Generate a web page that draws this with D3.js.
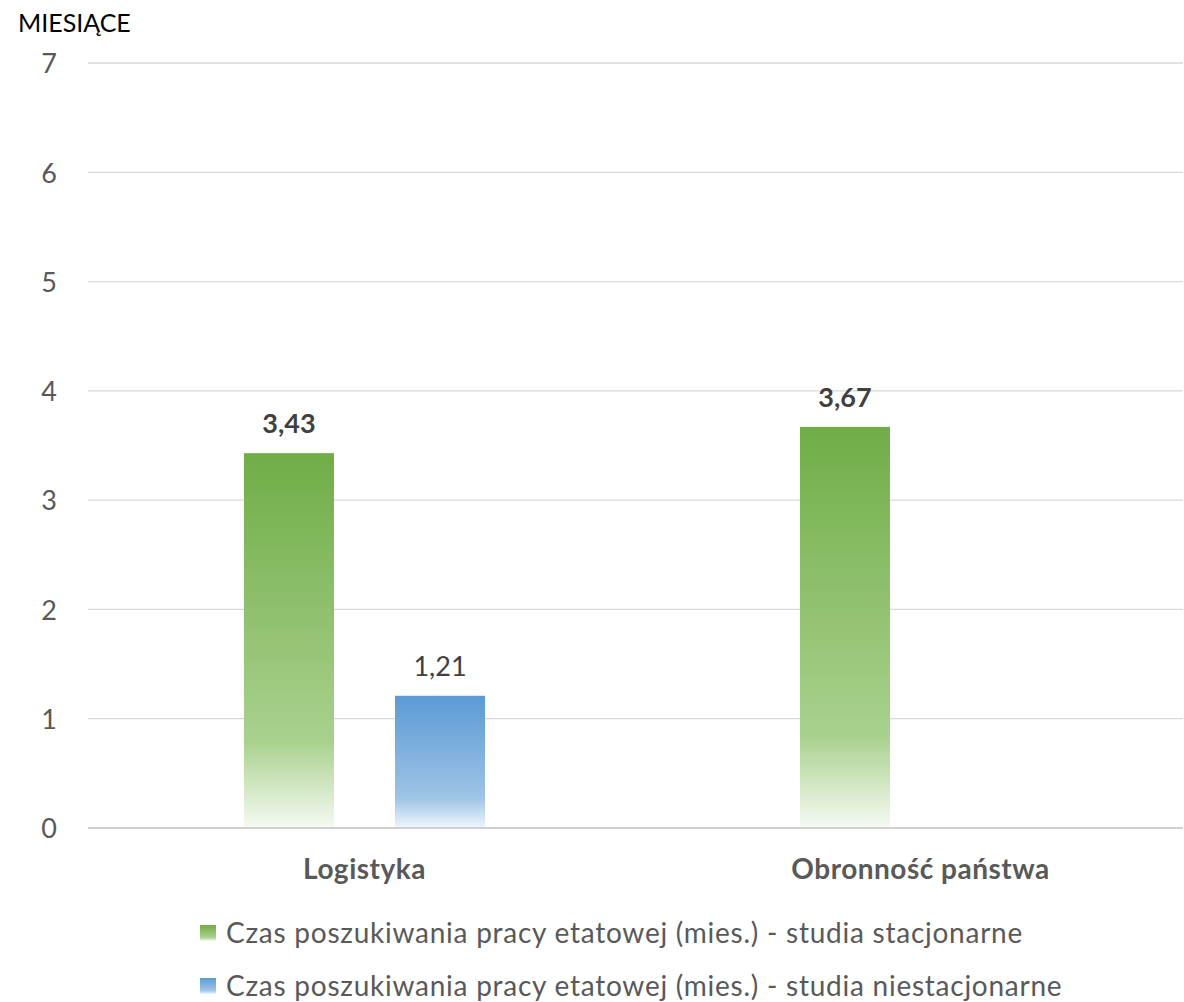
<!DOCTYPE html>
<html><head><meta charset="utf-8">
<script src="https://cdn.jsdelivr.net/npm/d3@7"></script>
<style>body{margin:0;background:#fff}svg{display:block}text{font-family:Lato,"Open Sans",sans-serif}</style>
</head><body>
<svg id="c" width="1184" height="1002"></svg>
<script>
const categories = ["Logistyka", "Obronność państwa"];
const seriesNames = ["Czas poszukiwania pracy etatowej (mies.) - studia stacjonarne",
                     "Czas poszukiwania pracy etatowej (mies.) - studia niestacjonarne"];
const stacjonarne = [3.43, 3.67];
const niestacjonarne = [1.21, null];
const yTicks = [0, 1, 2, 3, 4, 5, 6, 7];
const yTitle = "MIESIĄCE";

const svg = d3.select("#c");
const plotLeft = 88, plotRight = 1183;
const y = d3.scaleLinear().domain([0, 7]).range([828, 63]);
const x0 = d3.scaleBand().domain(categories).range([86.5, 1198.5]);
const half = x0.bandwidth() / 2;
const x1 = d3.scaleBand().domain([0, 1]).range([half - 120.5, half + 120.5]).paddingInner(0.404);

const defs = svg.append("defs");
const grads = [
  {id: "g0", stops: [["0", "#70AD47"], ["0.77", "#A9D18E"], ["1", "#F6FAF3"]]},
  {id: "g1", stops: [["0", "#5B9BD5"], ["0.77", "#9DC3E6"], ["1", "#F0F6FC"]]}
];
grads.forEach(g => {
  const lg = defs.append("linearGradient").attr("id", g.id).attr("x1", 0).attr("y1", 0).attr("x2", 0).attr("y2", 1);
  g.stops.forEach(s => lg.append("stop").attr("offset", s[0]).attr("stop-color", s[1]));
});

// gridlines
svg.append("g").selectAll("line").data(yTicks.filter(d => d > 0)).join("line")
  .attr("x1", plotLeft).attr("x2", plotRight)
  .attr("y1", d => y(d)).attr("y2", d => y(d))
  .attr("stroke", "#d9d9d9").attr("stroke-width", 1.3);

// y axis labels
const yAxis = d3.axisLeft(y).tickValues(yTicks).tickFormat(d3.format("d")).tickSize(0).tickPadding(0);
const ya = svg.append("g").attr("transform", "translate(57,0)").call(yAxis);
ya.select(".domain").remove();
ya.selectAll("text").attr("font-size", 27).attr("fill", "#595959").attr("font-family", "Lato, sans-serif").attr("dy", "0.36em");

svg.append("text").attr("x", 18).attr("y", 32).attr("font-size", 25).attr("fill", "#000").text(yTitle);

// bars
const series = [stacjonarne, niestacjonarne];
series.forEach((vals, si) => {
  const g = svg.append("g");
  categories.forEach((c, ci) => {
    const v = vals[ci];
    if (v == null) return;
    const bx = x0(c) + x1(si);
    g.append("rect").attr("x", bx).attr("y", y(v)).attr("width", x1.bandwidth()).attr("height", y(0) - y(v))
      .attr("fill", `url(#g${si})`);
    g.append("text").attr("x", bx + x1.bandwidth()/2).attr("y", y(v) - 20)
      .attr("text-anchor", "middle").attr("font-size", 27)
      .attr("font-weight", si === 0 ? "bold" : "normal")
      .attr("fill", "#404040").text(v.toFixed(2).replace(".", ","));
  });
});

// x axis baseline
svg.append("line").attr("x1", plotLeft).attr("x2", plotRight).attr("y1", y(0)).attr("y2", y(0))
  .attr("stroke", "#d0d0d0").attr("stroke-width", 2);

// category labels
const xAxis = d3.axisBottom(x0).tickSize(0).tickPadding(0);
const xa = svg.append("g").attr("transform", `translate(0,${y(0)})`).call(xAxis);
xa.select(".domain").remove();
xa.selectAll("text").attr("y", 51).attr("dy", 0).attr("font-size", 28).attr("font-weight", "bold")
  .attr("letter-spacing", "0.5px")
  .attr("fill", "#595959").attr("font-family", "Lato, sans-serif");

// legend
const legY = [933, 986];
seriesNames.forEach((n, i) => {
  svg.append("rect").attr("x", 200).attr("y", legY[i] - 8).attr("width", 16).attr("height", 16).attr("fill", `url(#g${i})`);
  svg.append("text").attr("x", 226).attr("y", legY[i]).attr("dy", "0.35em").attr("font-size", 28)
    .attr("letter-spacing", "0.75px")
    .attr("fill", "#595959").text(n);
});
</script>
</body></html>
